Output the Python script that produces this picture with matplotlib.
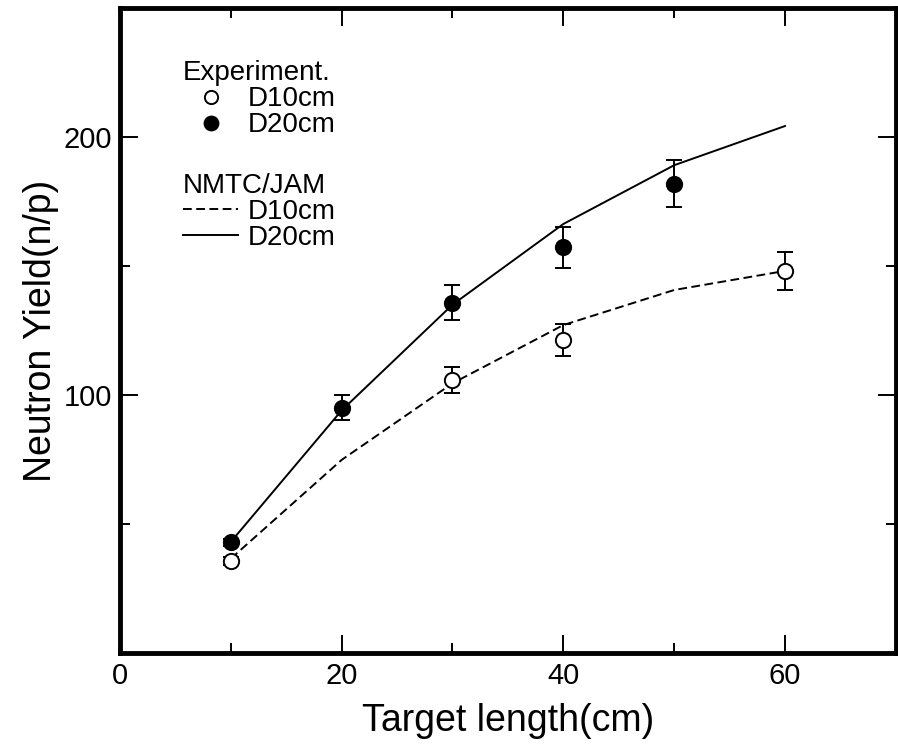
import matplotlib.pyplot as plt
from matplotlib.ticker import FixedLocator, MultipleLocator
from matplotlib.lines import Line2D

plt.rcParams['font.family'] = ['Liberation Sans', 'DejaVu Sans']

# Experimental data
x_exp_d10 = [10, 30, 40, 60]
y_exp_d10 = [35.7, 105.8, 121.3, 148.1]
err_exp_d10 = [1.5, 5.2, 6.2, 7.4]

x_exp_d20 = [10, 20, 30, 40, 50]
y_exp_d20 = [42.8, 95.1, 135.8, 157.2, 182.0]
err_exp_d20 = [1.5, 4.7, 6.8, 7.8, 9.0]

# NMTC/JAM calculation
x_calc = [10, 20, 30, 40, 50, 60]
y_calc_d10 = [36.5, 74.8, 104.5, 127.1, 140.7, 148.1]
y_calc_d20 = [43.0, 94.0, 135.0, 166.3, 189.1, 204.3]

dashed = (0, (4.5, 2.3))

fig = plt.figure(figsize=(8.98, 7.46), dpi=100)
ax = fig.add_axes([0.1336, 0.125, 0.864, 0.864])

ax.plot(x_calc, y_calc_d10, color='black', lw=1.4, ls=dashed)
ax.plot(x_calc, y_calc_d20, color='black', lw=1.4, ls='-')

ax.errorbar(x_exp_d10, y_exp_d10, yerr=err_exp_d10, fmt='o', ms=11,
            mfc='white', mec='black', mew=1.4, ecolor='black',
            elinewidth=1.4, capsize=5.5, capthick=1.4, zorder=3)
ax.errorbar(x_exp_d20, y_exp_d20, yerr=err_exp_d20, fmt='o', ms=11,
            mfc='black', mec='black', mew=1.4, ecolor='black',
            elinewidth=1.4, capsize=5.5, capthick=1.4, zorder=3)

ax.set_xlim(0, 70)
ax.set_ylim(0, 250)
ax.xaxis.set_major_locator(FixedLocator([0, 20, 40, 60]))
ax.xaxis.set_minor_locator(MultipleLocator(10))
ax.yaxis.set_major_locator(FixedLocator([100, 200]))
ax.yaxis.set_minor_locator(MultipleLocator(50))
ax.tick_params(which='both', direction='in', top=True, right=True,
               width=1.4, labelsize=21)
ax.tick_params(axis='x', pad=7)
ax.tick_params(axis='y', pad=6)
ax.tick_params(which='major', length=13)
ax.tick_params(which='minor', length=7)
for s in ax.spines.values():
    s.set_linewidth(3.5)

ax.set_xlabel('Target length(cm)', fontsize=27, labelpad=9)
ax.set_ylabel('Neutron Yield(n/p)', fontsize=27, labelpad=3)

# Two stacked legends: experiment markers and calculation lines
h_exp = [Line2D([], [], ls='none', marker='o', ms=9.5, mfc='white', mec='black', mew=1.4),
         Line2D([], [], ls='none', marker='o', ms=10, mfc='black', mec='black', mew=1.4)]
h_calc = [Line2D([], [], color='black', lw=1.4, ls=dashed),
          Line2D([], [], color='black', lw=1.4, ls='-')]
leg_style = dict(loc='upper left', frameon=False, fontsize=20, title_fontsize=20,
                 alignment='left', handlelength=2.0, handletextpad=0.32,
                 labelspacing=0.0, borderpad=0, borderaxespad=0)
leg1 = ax.legend(h_exp, ['D10cm', 'D20cm'], title='Experiment.',
                 bbox_to_anchor=(0.081, 0.919), **leg_style)
ax.add_artist(leg1)
ax.legend(h_calc, ['D10cm', 'D20cm'], title='NMTC/JAM',
          bbox_to_anchor=(0.081, 0.745), **leg_style)

fig.savefig('out.png', dpi=100)
